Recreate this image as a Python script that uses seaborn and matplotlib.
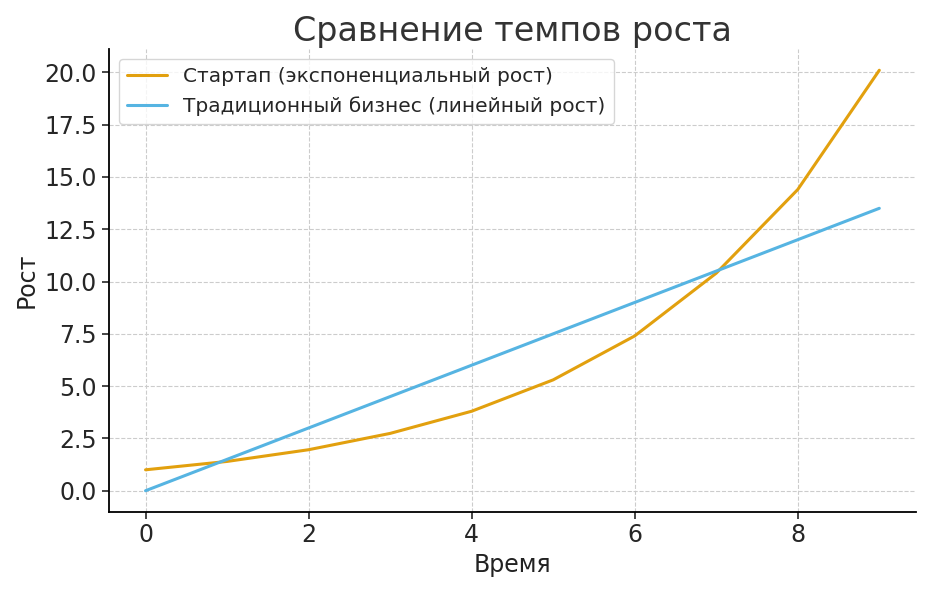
import matplotlib
matplotlib.use("Agg")
import matplotlib.pyplot as plt
import seaborn as sns
import pandas as pd

time = [0, 1, 2, 3, 4, 5, 6, 7, 8, 9]
startup = [1.0, 1.4, 1.96, 2.74, 3.8, 5.3, 7.4, 10.4, 14.4, 20.1]
traditional = [0.0, 1.5, 3.0, 4.5, 6.0, 7.5, 9.0, 10.5, 12.0, 13.5]

df = pd.DataFrame({"time": time, "startup": startup, "traditional": traditional})

sns.set_style("ticks", {"axes.grid": True, "grid.linestyle": "--", "grid.color": "#cccccc",
                        "axes.edgecolor": "black"})
plt.rcParams['font.family'] = ['DejaVu Sans']

fig, ax = plt.subplots(figsize=(9.31, 5.92), dpi=100)
sns.lineplot(data=df, x="time", y="startup", color="#E2A00E", lw=2.2, ax=ax,
             label="Стартап (экспоненциальный рост)")
sns.lineplot(data=df, x="time", y="traditional", color="#56B4E2", lw=2.2, ax=ax,
             label="Традиционный бизнес (линейный рост)")

ax.set_title("Сравнение темпов роста", fontsize=24, color="#333333")
ax.set_xlabel("Время", fontsize=17, color="#222222")
ax.set_ylabel("Рост", fontsize=17, color="#222222")
ax.tick_params(labelsize=17, width=1.2, length=5)
for s in ax.spines.values():
    s.set_linewidth(1.3)
ax.set_yticks([0, 2.5, 5, 7.5, 10, 12.5, 15, 17.5, 20])
ax.set_ylim(-1, 21.1)
ax.set_xlim(-0.45, 9.45)
sns.despine(ax=ax)
ax.legend(loc="upper left", fontsize=14.5, frameon=True)

plt.tight_layout()
plt.savefig("out.png", dpi=100)
